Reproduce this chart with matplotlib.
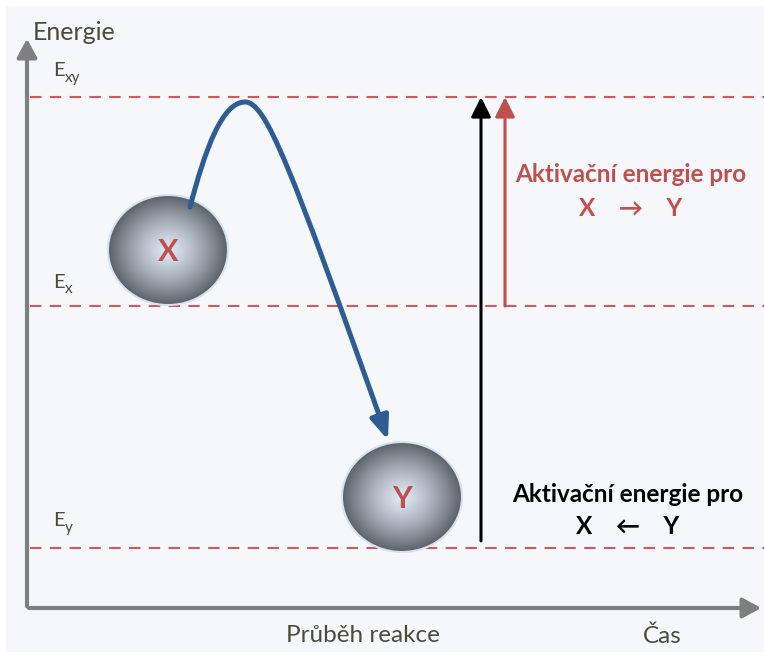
import numpy as np
import matplotlib.pyplot as plt
from matplotlib.patches import Ellipse, FancyArrowPatch, Rectangle
from matplotlib.path import Path

plt.rcParams['font.family'] = ['Lato', 'DejaVu Sans']

# ---- Diagram data (pixel-like units, y grows downward) ----
level_names = ["xy", "x", "y"]
level_y = [97, 306, 548]
level_label_y = [71, 282, 521]

balls = ["X", "Y"]
ball_x = [168, 402]
ball_y = [250, 497]

# activation arrows: (x, from level, to level)
act_x = [481, 505]
act_from = [541, 306]
act_to = [97, 97]
act_colors = ["black", "#c0504d"]

# reaction path control points (two Bezier segments)
path_x = [190, 205, 222, 245, 266, 290, 388]
path_y = [207, 150, 102, 102, 102, 165, 440]

text_col = "#4b4a3c"
red = "#c0504d"
dash_red = "#d05a5a"

fig = plt.figure(figsize=(7.64, 6.55), dpi=100)
ax = fig.add_axes([0, 0, 1, 1])
ax.set_xlim(0, 764)
ax.set_ylim(655, 0)
ax.axis("off")

# panel background
ax.add_patch(Rectangle((6, 6), 760, 646, facecolor="#f5f7fb", edgecolor="none", zorder=0))

# axes arrows
ax.add_patch(FancyArrowPatch((27, 609), (27, 36), arrowstyle="-|>,head_length=0.55,head_width=0.3",
                             mutation_scale=20, color="#7f7f7f", lw=3, zorder=2))
ax.add_patch(FancyArrowPatch((26, 608), (764, 608), arrowstyle="-|>,head_length=0.55,head_width=0.3",
                             mutation_scale=20, color="#7f7f7f", lw=3, zorder=2))

# energy levels
for name, y, ly in zip(level_names, level_y, level_label_y):
    ax.plot([30, 764], [y, y], color=dash_red, lw=1.5, dashes=(5.5, 4), zorder=1)
    ax.text(53, ly, "E", fontsize=14.5, color=text_col, ha="left", va="center")
    ax.text(65, ly + 7, name, fontsize=11, color=text_col, ha="left", va="center")

# balls with radial gradient
yy, xx = np.mgrid[-1:1:200j, -1:1:200j]
r = np.clip(np.sqrt(xx ** 2 + yy ** 2), 0, 1)
light = np.array([0.87, 0.91, 0.95])
dark = np.array([0.36, 0.38, 0.41])
img = light[None, None, :] + (dark - light)[None, None, :] * (r[..., None] ** 1.3)
for name, cx, cy in zip(balls, ball_x, ball_y):
    ell = Ellipse((cx, cy), 120, 110, facecolor="none", edgecolor="#d6e2ee", lw=1.5, zorder=4)
    ax.add_patch(ell)
    im = ax.imshow(img, extent=(cx - 60, cx + 60, cy + 55, cy - 55), zorder=3, interpolation="bilinear")
    im.set_clip_path(ell)
    ax.text(cx, cy + 2, name, fontsize=22, fontweight="bold", color=red, ha="center", va="center", zorder=5)

# reaction path
verts = list(zip(path_x, path_y))
codes = [Path.MOVETO] + [Path.CURVE4] * 6
curve = Path(verts, codes)
ax.add_patch(FancyArrowPatch(path=curve, arrowstyle="-|>,head_length=0.7,head_width=0.28",
                             mutation_scale=20, color="#2e5d94", lw=3.6, zorder=6))

# activation arrows
for x, y0, y1, c in zip(act_x, act_from, act_to, act_colors):
    ax.add_patch(FancyArrowPatch((x, y0), (x, y1), arrowstyle="-|>,head_length=0.6,head_width=0.3",
                                 mutation_scale=20, color=c, lw=2.2, shrinkA=0, shrinkB=0, zorder=5))

# annotations
ax.text(631, 175, "Aktivační energie pro", fontsize=17.5, fontweight="bold", color=red, ha="center", va="center")
ax.text(631, 208, "X    →    Y", fontsize=17.5, fontweight="bold", color=red, ha="center", va="center")
ax.text(628, 495, "Aktivační energie pro", fontsize=17.5, fontweight="bold", color="black", ha="center", va="center")
ax.text(628, 526, "X    ←    Y", fontsize=17.5, fontweight="bold", color="black", ha="center", va="center")

ax.text(33, 33, "Energie", fontsize=18, color=text_col, ha="left", va="center")
ax.text(363, 636, "Průběh reakce", fontsize=17.5, color=text_col, ha="center", va="center")
ax.text(662, 636, "Čas", fontsize=17.5, color=text_col, ha="center", va="center")

fig.savefig("out.png", dpi=100, facecolor="white")
